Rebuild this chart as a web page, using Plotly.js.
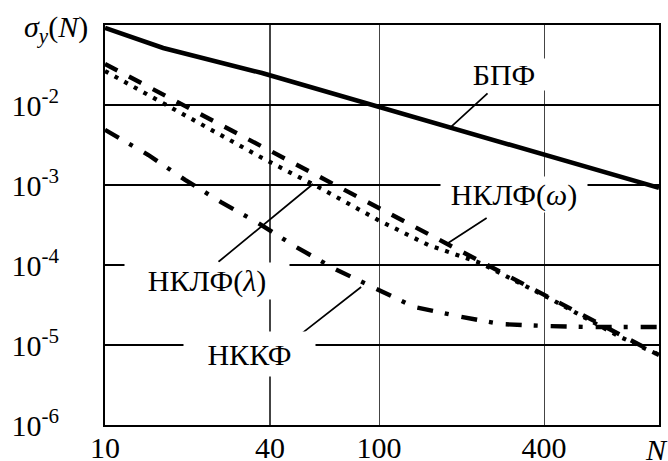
<!DOCTYPE html>
<html>
<head>
<meta charset="utf-8">
<script src="https://cdn.plot.ly/plotly-3.0.1.min.js"></script>
<style>html,body{margin:0;padding:0;background:#fff;}#chart{width:668px;height:461px;}</style>
</head>
<body>
<div id="chart"></div>
<script>
// Axis ticks
const xTickVals = [10, 40, 100, 400];
const xTickText = ['10', '40', '100', '400'];
const yTickVals = [1e-6, 1e-5, 1e-4, 1e-3, 1e-2];
const yTickText = ['10<sup>-6</sup>', '10<sup>-5</sup>', '10<sup>-4</sup>', '10<sup>-3</sup>', '10<sup>-2</sup>'];
const xMax = 1050;

// БПФ (solid)
const bpfN = [10, 16.3, 37.4, 100, 400, 1050];
const bpfS = [0.092, 0.0516, 0.0251, 0.0095, 0.0024, 0.00092];

// НКЛФ(ω) (dashed)
const nklfwN = [10, 37.4, 106, 244, 1050];
const nklfwS = [0.0326, 0.00299, 0.00046, 0.000103, 0.0000075];

// НКЛФ(λ) (dotted)
const nklflN = [10, 37.4, 60.9, 99.2, 151, 234, 410, 758, 1050];
const nklflS = [0.0266, 0.00218, 0.000917, 0.000365, 0.000178, 0.000106, 0.0000398, 0.0000126, 0.0000075];

// НККФ (dash-dot)
const nkkfN = [10, 14.4, 19.6, 26.5, 36.2, 49.8, 69.1, 95.1, 134, 193, 276, 404, 579, 1050];
const nkkfS = [0.0049, 0.00237, 0.00116, 0.00061, 0.000335, 0.000168, 0.000089, 0.000052, 0.00003, 0.000023, 0.0000183, 0.0000173, 0.0000168, 0.0000168];

const FONT = '"Liberation Serif", "Times New Roman", Times, serif';

const traces = [
  {x: bpfN, y: bpfS, mode: 'lines', line: {color: '#000', width: 4.6}},
  {x: nklfwN, y: nklfwS, mode: 'lines', line: {color: '#000', width: 4.4, dash: '14px,13px'}},
  {x: nklflN, y: nklflS, mode: 'lines', line: {color: '#000', width: 4.2, dash: '4px,7px'}},
  {x: nkkfN, y: nkkfS, mode: 'lines', line: {color: '#000', width: 4.4, dash: '16px,12px,4px,13px'}}
].map(t => Object.assign({type: 'scatter', hoverinfo: 'skip', showlegend: false}, t));

function label(text, x, y, w, h) {
  return {text: text, x: Math.log10(x), y: Math.log10(y), xref: 'x', yref: 'y', showarrow: false,
          bgcolor: '#fff', width: w, height: h, borderpad: 0,
          font: {family: FONT, size: 30, color: '#000'}};
}
function leader(x, y, ax, ay) {
  return {text: '', x: Math.log10(x), y: Math.log10(y), xref: 'x', yref: 'y', showarrow: true,
          arrowhead: 0, arrowwidth: 1.7, arrowcolor: '#000', ax: ax, ay: ay, standoff: 0};
}

const layout = {
  width: 668, height: 461,
  margin: {l: 105, r: 9, t: 25, b: 36, pad: 0},
  paper_bgcolor: '#fff', plot_bgcolor: '#fff',
  showlegend: false,
  font: {family: FONT, size: 30, color: '#000'},
  xaxis: {
    type: 'log', range: [1, Math.log10(xMax)],
    tickmode: 'array', tickvals: xTickVals, ticktext: xTickText,
    showgrid: true, gridcolor: '#444', gridwidth: 1.2,
    showline: true, linecolor: '#000', linewidth: 2, mirror: true,
    ticks: '', zeroline: false, ticklabelstandoff: -5,
    tickfont: {family: FONT, size: 30, color: '#000'}
  },
  yaxis: {
    type: 'log', range: [-6, -1],
    tickmode: 'array', tickvals: yTickVals, ticktext: yTickText,
    showgrid: true, gridcolor: '#000', gridwidth: 2,
    showline: true, linecolor: '#000', linewidth: 2, mirror: true,
    ticks: '', zeroline: false, ticklabelstandoff: 38,
    tickfont: {family: FONT, size: 30, color: '#000'}
  },
  annotations: [
    leader(183, 5.31e-3, 38, -35),
    leader(178.6, 1.884e-4, 40, -26),
    leader(57.4, 1.029e-3, -96, 79),
    leader(86, 5.31e-5, -64, 50),
    label('БПФ', 286, 0.0244, 86, 31),
    label('НКЛФ(<i>ω</i>)', 311, 7.6e-4, 146, 35),
    label('НКЛФ(<i>λ</i>)', 23.6, 6.31e-5, 164, 36),
    label('НККФ', 33.8, 7.7e-6, 131, 44),
    {text: '<i>σ<sub>y</sub></i>(<i>N</i>)', xref: 'paper', yref: 'paper', x: 0, y: 1,
     xanchor: 'right', yanchor: 'middle', xshift: -15, yshift: -4, showarrow: false,
     font: {family: FONT, size: 30, color: '#000'}},
    {text: '<i>N</i>', xref: 'paper', yref: 'paper', x: 1, y: 0,
     xanchor: 'center', yanchor: 'top', xshift: -3, yshift: -6, showarrow: false,
     font: {family: FONT, size: 30, color: '#000'}}
  ]
};

Plotly.newPlot('chart', traces, layout, {staticPlot: true, displayModeBar: false});
</script>
</body>
</html>
